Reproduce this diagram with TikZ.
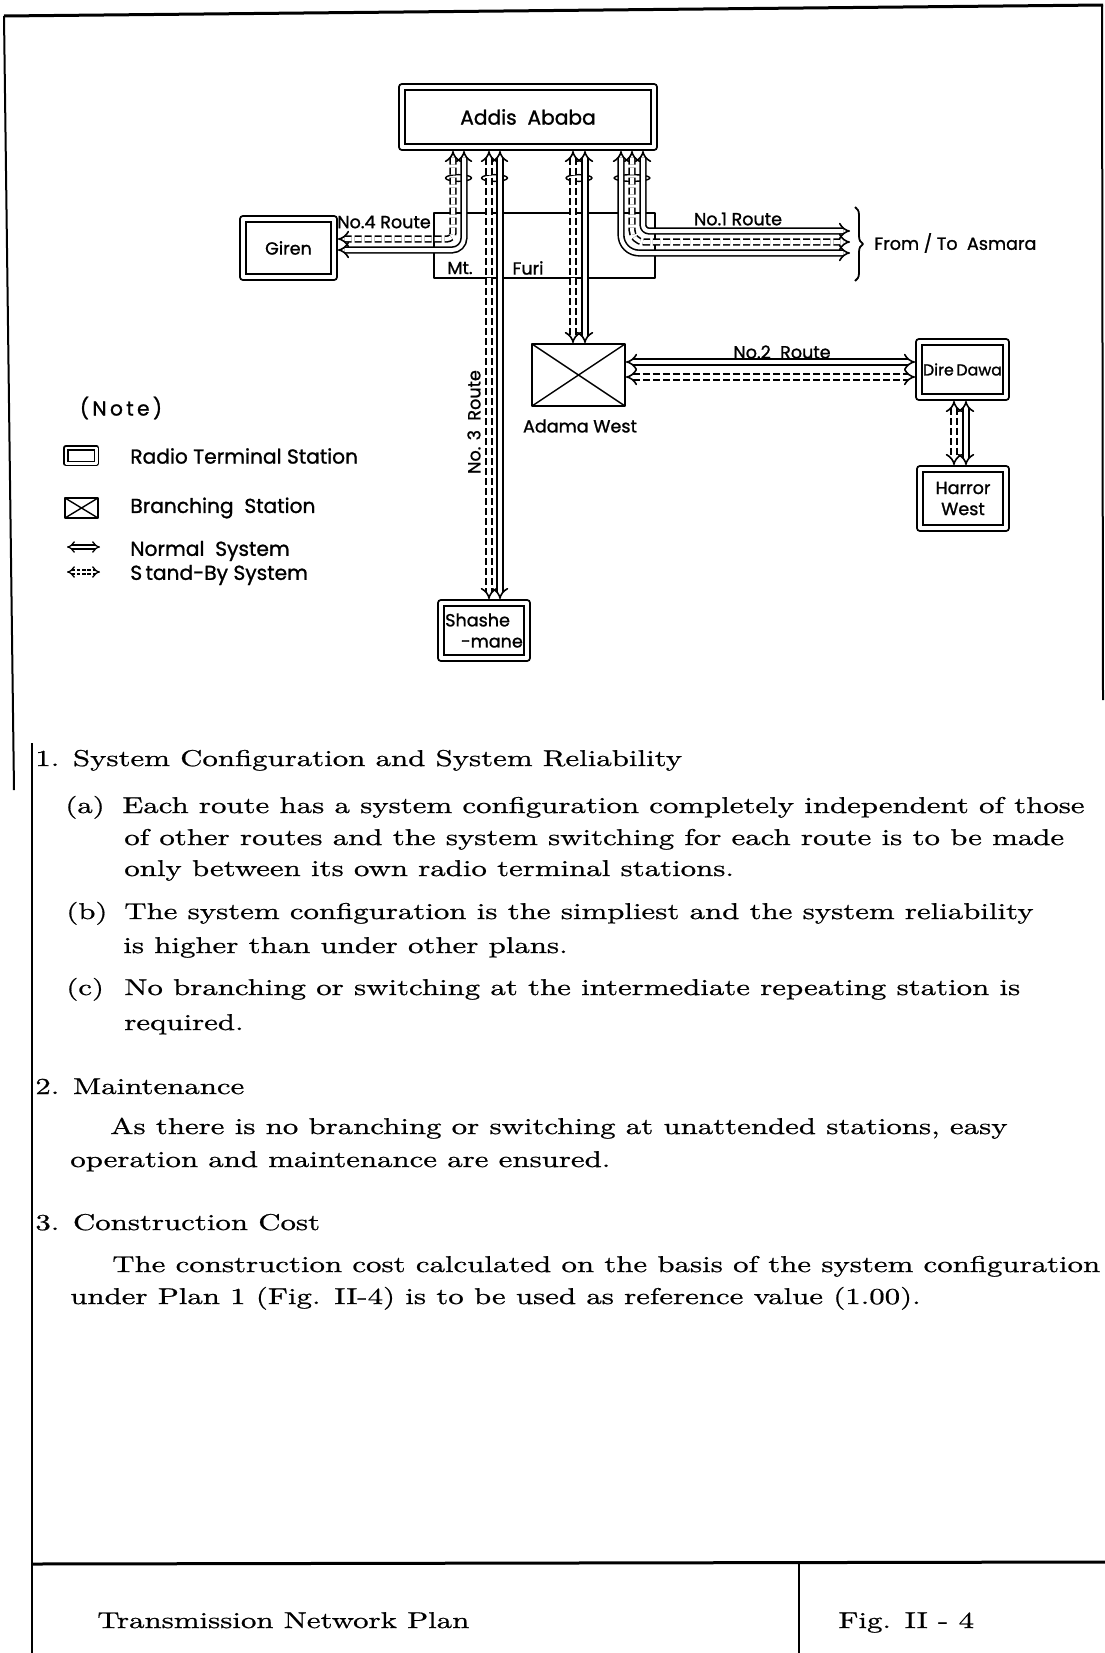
\documentclass[tikz,border=0pt]{standalone}
\usepackage{fontspec}
\newfontfamily\lettering{Poppins}[FakeBold=1.2]
\newfontfamily\bodyfont{lmroman10-regular.otf}[FakeStretch=1.35,FakeBold=0.8]
\usetikzlibrary{arrows.meta,decorations.pathreplacing}
\newdimen\px \px=0.02cm
\tikzset{plan/.style={
  x=0.02cm,y=-0.02cm,line join=round
},
  terminal/.style={draw,double,line width=2\px,double distance=4\px,outer sep=4\px,
    inner sep=0pt,align=center,font=\lettering\fontsize{10}{12}\selectfont},
  branching/.style={draw,line width=2\px,inner sep=0pt,outer sep=1\px,
    path picture={\draw[line width=1.4\px] (path picture bounding box.south west) -- (path picture bounding box.north east)
      (path picture bounding box.north west) -- (path picture bounding box.south east);}},
  normalsys/.style={double,line width=1.6\px,double distance=4\px,{Implies[scale=1.4]}-{Implies[scale=1.4]}},
  standbysys/.style={normalsys,dash pattern=on 4pt off 1.7pt},
  tie/.style={line width=1.4\px},
  lbl/.style={inner sep=0pt,font=\lettering\fontsize{10}{12}\selectfont},
  keylbl/.style={inner sep=0pt,anchor=west,font=\lettering\fontsize{11.5}{13}\selectfont},
  txt/.style={inner sep=0pt,anchor=base west,font=\bodyfont\fontsize{13}{16}\selectfont}
}

\begin{document}
\begin{tikzpicture}[plan]
  \useasboundingbox (0,0) rectangle (1105,1653);
  \draw[line width=3\px] (4,16) -- (1103,5);
  \draw[line width=2\px] (4,16) -- (14,790);
  \draw[line width=2\px] (1102,5) -- (1103,700);
  \draw[line width=2\px] (32,743) -- (32,1653);
  \draw[line width=3\px] (32,1564) -- (1105,1562);
  \draw[line width=2\px] (799,1563) -- (799,1653);

  \node[terminal,minimum width=252\px,minimum height=60\px,font=\lettering\fontsize{11.5}{13}\selectfont] (addis) at (528,117) {Addis\ \ Ababa};
  \node[terminal,minimum width=91\px,minimum height=58\px] (giren) at (288.5,248) {Giren};
  \node[terminal,minimum width=87\px,minimum height=55\px,font=\lettering\fontsize{9}{11}\selectfont] (dire) at (962.5,369.5) {Dire\,Dawa};
  \node[terminal,minimum width=86\px,minimum height=59\px] (harror) at (963,498.5) {Harror\\West};
  \node[terminal,minimum width=86\px,minimum height=55\px,align=left] (shashe) at (484,630.5) {Shashe\\\hspace*{0.9em}-mane};
  \node[draw,line width=1.4\px,minimum width=221\px,minimum height=65\px] (furi) at (544.5,245.5) {};
  \node[branching,minimum width=93\px,minimum height=62\px] (adama) at (578.5,375) {};
  \coordinate (asmara) at (850,242);

  \draw[tie] (458.5,178) ellipse [x radius=7.4pt,y radius=1.9pt];
  \draw[tie] (494.5,178) ellipse [x radius=7.4pt,y radius=1.9pt];
  \draw[tie] (579,178) ellipse [x radius=7.4pt,y radius=1.9pt];
  \draw[tie] (632,178) ellipse [x radius=10.2pt,y radius=1.9pt];

  \draw[standbysys,rounded corners=6\px] (453,0 |- addis.south) |- (giren.east |- 0,239);
  \draw[normalsys,rounded corners=12\px] (464,0 |- addis.south) |- (giren.east |- 0,250);
  \draw[standbysys] (489,0 |- addis.south) -- (489,0 |- shashe.north);
  \draw[normalsys] (500,0 |- addis.south) -- (500,0 |- shashe.north);
  \draw[standbysys] (573,0 |- addis.south) -- (573,0 |- adama.north);
  \draw[normalsys] (585,0 |- addis.south) -- (585,0 |- adama.north);
  \draw[normalsys,rounded corners=6\px] (643,0 |- addis.south) |- (asmara |- 0,231);
  \draw[standbysys,rounded corners=12\px] (632,0 |- addis.south) |- (asmara |- 0,242);
  \draw[normalsys,rounded corners=18\px] (621,0 |- addis.south) |- (asmara |- 0,253);
  \draw[normalsys] (adama.east |- 0,362) -- (dire.west |- 0,362);
  \draw[standbysys] (adama.east |- 0,377) -- (dire.west |- 0,377);
  \draw[standbysys] (954,0 |- dire.south) -- (954,0 |- harror.north);
  \draw[normalsys] (966,0 |- dire.south) -- (966,0 |- harror.north);
  \draw[decorate,decoration={brace,amplitude=8\px},line width=1.8\px] (855,207) -- (855,281);

  \node[lbl] (mt) at (460,268) {Mt.};
  \node[lbl] (furilbl) at (528,268) {Furi};
  \node[lbl] (route4) at (384,222) {No.4 Route};
  \node[lbl] (route1) at (738,219) {No.1 Route};
  \node[lbl] (route2) at (782,352) {No.2\ \ Route};
  \node[lbl,rotate=90] (route3) at (474,422) {No. 3\ \ Route};
  \node[lbl,anchor=west] (asmaralbl) at (874,243) {From / To\ \ Asmara};
  \node[lbl] (adamalbl) at (580,426) {Adama West};

  \node[keylbl,anchor=center] (note) at (121,408) {(\,N\,o\,t\,e\,)};
  \node[terminal,line width=1.5\px,double distance=2.5\px,outer sep=2.8\px,minimum width=30.5\px,minimum height=15.5\px] (keyterm) at (81,455.5) {};
  \node[branching,minimum width=33\px,minimum height=20\px] (keybranch) at (81.5,508) {};
  \coordinate (keyn1) at (67,547);
  \coordinate (keyn2) at (100,547);
  \coordinate (keys1) at (67,572);
  \coordinate (keys2) at (100,572);
  \draw[normalsys,line width=1.3\px,double distance=2.6\px] (keyn1) -- (keyn2);
  \draw[standbysys,line width=1.3\px,double distance=2.6\px,dash pattern=on 2pt off 1pt] (keys1) -- (keys2);
  \node[keylbl] (keytermlbl) at (130,456) {Radio Terminal Station};
  \node[keylbl] (keybranchlbl) at (130,508) {Branching\ \ Station};
  \node[keylbl] (keynlbl) at (130,551) {Normal\ \ System};
  \node[keylbl] (keyslbl) at (130,575) {S\,tand-By System};

  \node[txt] (h1) at (35,766) {1. System Configuration and System Reliability};
  \node[txt] (ia) at (65,813) {(a)};
  \node[txt] (ia1) at (122,813) {Each route has a system configuration completely independent of those};
  \node[txt] (ia2) at (124,845) {of other routes and the system switching for each route is to be made};
  \node[txt] (ia3) at (124,876) {only between its own radio terminal stations.};
  \node[txt] (ib) at (66,919) {(b)};
  \node[txt] (ib1) at (124,919) {The system configuration is the simpliest and the system reliability};
  \node[txt] (ib2) at (123,953) {is higher than under other plans.};
  \node[txt] (ic) at (66,995) {(c)};
  \node[txt] (ic1) at (124,995) {No branching or switching at the intermediate repeating station is};
  \node[txt] (ic2) at (124,1030) {required.};
  \node[txt] (h2) at (35,1094) {2. Maintenance};
  \node[txt] (m1) at (110,1134) {As there is no branching or switching at unattended stations, easy};
  \node[txt] (m2) at (70,1167) {operation and maintenance are ensured.};
  \node[txt] (h3) at (35,1230) {3. Construction Cost};
  \node[txt] (c1) at (112,1272) {The construction cost calculated on the basis of the system configuration};
  \node[txt] (c2) at (70,1304) {under Plan 1 (Fig. II-4) is to be used as reference value (1.00).};

  \node[txt] (title) at (97,1628) {Transmission Network Plan};
  \node[txt] (fig) at (838,1628) {Fig. II - 4};
\end{tikzpicture}
\end{document}
